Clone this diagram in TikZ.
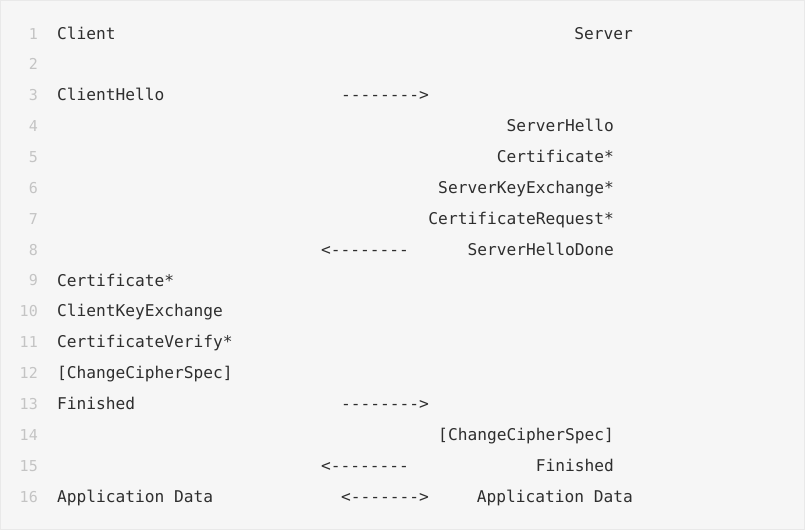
\documentclass[tikz,border=0pt]{standalone}
\usepackage{fontspec}
\setmonofont{DejaVu Sans Mono}
\usetikzlibrary{positioning}
\definecolor{codebg}{HTML}{F6F6F6}
\definecolor{codeframe}{HTML}{E9E9E9}
\definecolor{codefg}{HTML}{2E2E2E}
\definecolor{lineno}{HTML}{C4C4C4}
\tikzset{
	code/.style={inner sep=0pt,text=codefg,font=\ttfamily\fontsize{16.2}{20}\selectfont},
	left/.style={code,anchor=base west},
	right/.style={code,anchor=base east},
	num/.style={inner sep=0pt,anchor=base east,text=lineno,font=\ttfamily\fontsize{15}{20}\selectfont}
}
\begin{document}
\begin{tikzpicture}[x=1pt,y=-1pt]
	\fill[codebg,draw=codeframe] (0.5,0.5) rectangle (804.5,529.5);
	\useasboundingbox (0,0) rectangle (805,530);
	% line numbers
	\foreach \n in {1,...,16}
		\node[num] (n\n) at (38,{39+(\n-1)*30.87}) {\n};
	% client side
	\node[left] (client) at (57,39) {Client};
	\node[left] (chello) at (57,100.7) {ClientHello};
	\node[left] (ccert) at (57,286) {Certificate*};
	\node[left] (ckex) at (57,316.8) {ClientKeyExchange};
	\node[left] (cverify) at (57,347.7) {CertificateVerify*};
	\node[left] (cccs) at (57,378.6) {[ChangeCipherSpec]};
	\node[left] (cfin) at (57,409.4) {Finished};
	\node[left] (cdata) at (57,502) {Application Data};
	% arrows
	\node[left] (a3) at (341,100.7) {-------->};
	\node[left] (a8) at (321,255.1) {<--------};
	\node[left] (a13) at (341,409.4) {-------->};
	\node[left] (a15) at (321,471.1) {<--------};
	\node[left] (a16) at (341,502) {<------->};
	% server side
	\node[right] (server) at (633,39) {Server};
	\node[right] (shello) at (614,131.6) {ServerHello};
	\node[right] (scert) at (614,162.5) {Certificate*};
	\node[right] (skex) at (614,193.4) {ServerKeyExchange*};
	\node[right] (sreq) at (614,224.2) {CertificateRequest*};
	\node[right] (sdone) at (614,255.1) {ServerHelloDone};
	\node[right] (sccs) at (614,440.3) {[ChangeCipherSpec]};
	\node[right] (sfin) at (614,471.1) {Finished};
	\node[right] (sdata) at (633,502) {Application Data};
\end{tikzpicture}
\end{document}
